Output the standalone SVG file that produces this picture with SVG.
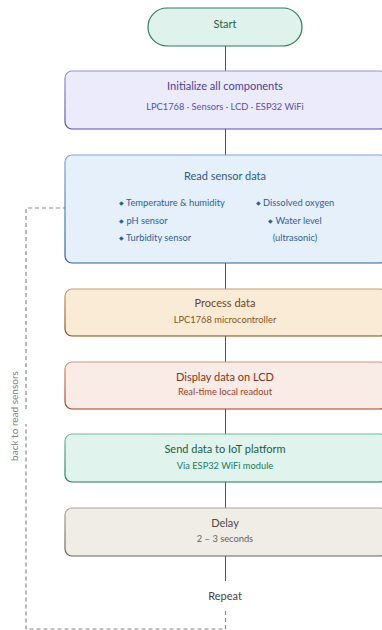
<svg xmlns="http://www.w3.org/2000/svg" width="382" height="630" viewBox="0 0 382 630">
<defs>
<linearGradient id="gInit" x1="0" y1="0" x2="0" y2="1"><stop offset="0" stop-color="#9b92d8"/><stop offset="1" stop-color="#5a4db0"/></linearGradient>
<linearGradient id="gRead" x1="0" y1="0" x2="0" y2="1"><stop offset="0" stop-color="#7ea6d6"/><stop offset="1" stop-color="#2d5f9f"/></linearGradient>
<linearGradient id="gProc" x1="0" y1="0" x2="0" y2="1"><stop offset="0" stop-color="#c0a07a"/><stop offset="1" stop-color="#8a4a0a"/></linearGradient>
<linearGradient id="gDisp" x1="0" y1="0" x2="0" y2="1"><stop offset="0" stop-color="#d09888"/><stop offset="1" stop-color="#a03e1e"/></linearGradient>
<linearGradient id="gSend" x1="0" y1="0" x2="0" y2="1"><stop offset="0" stop-color="#7ab8a2"/><stop offset="1" stop-color="#1f7a5a"/></linearGradient>
<linearGradient id="gDelay" x1="0" y1="0" x2="0" y2="1"><stop offset="0" stop-color="#aaa69e"/><stop offset="1" stop-color="#65615a"/></linearGradient>
</defs>
<style>
text{font-family:Lato,"Liberation Sans",sans-serif;text-anchor:middle}
.t{font-size:11px}
.s{font-size:9.3px}
.b{font-size:6px}
.l{text-anchor:start}
.box{stroke-width:1.2}
.conn{stroke:#555;stroke-width:1;fill:none}
.dash{stroke:#8a8a8a;stroke-width:1.2;fill:none;stroke-dasharray:4 3}
</style>
<g id="connectors">
<line class="conn" x1="225.5" y1="46" x2="225.5" y2="71"/>
<line class="conn" x1="225.5" y1="129" x2="225.5" y2="155"/>
<line class="conn" x1="225.5" y1="263" x2="225.5" y2="289"/>
<line class="conn" x1="225.5" y1="336" x2="225.5" y2="362"/>
<line class="conn" x1="225.5" y1="409" x2="225.5" y2="434"/>
<line class="conn" x1="225.5" y1="482" x2="225.5" y2="508"/>
<line class="conn" x1="225.5" y1="556" x2="225.5" y2="581"/>
<path class="dash" d="M225.5 611 V629 H26 V424"/>
<path class="dash" d="M26 409 V208 H65"/>
<text x="14" y="416" transform="rotate(-90 14 416)" dy="3.5" style="font-size:10px;fill:#808080">back to read sensors</text>
</g>
<g id="start">
<rect x="148" y="8" width="154" height="38" rx="19" fill="#dff3ec" stroke="#2e7d5b" stroke-width="1.2"/>
<text class="t" x="225" y="28" fill="#2a5d45">Start</text>
</g>
<g id="init">
<rect class="box" x="65" y="71" width="322" height="58" rx="7" fill="#ecebfb" stroke="url(#gInit)"/>
<text class="t" x="225" y="89.5" fill="#4a3f9a">Initialize all components</text>
<text class="s" x="225" y="109.5" fill="#5a4fb0">LPC1768 · Sensors · LCD · ESP32 WiFi</text>
</g>
<g id="read">
<rect class="box" x="65" y="155" width="322" height="108" rx="7" fill="#e6f0fa" stroke="url(#gRead)"/>
<text class="t" x="225" y="180" fill="#2d5a8c">Read sensor data</text>
<g fill="#2d5f9f" class="s">
<text class="s l" x="119" y="206"><tspan class="b" dy="-0.6">◆</tspan><tspan dy="0.6"> Temperature &amp; humidity</tspan></text>
<text class="s l" x="119" y="223.5"><tspan class="b" dy="-0.6">◆</tspan><tspan dy="0.6"> pH sensor</tspan></text>
<text class="s l" x="119" y="240.5"><tspan class="b" dy="-0.6">◆</tspan><tspan dy="0.6"> Turbidity sensor</tspan></text>
<text class="s" x="295" y="206"><tspan class="b" dy="-0.6">◆</tspan><tspan dy="0.6"> Dissolved oxygen</tspan></text>
<text class="s" x="295" y="223.5"><tspan class="b" dy="-0.6">◆</tspan><tspan dy="0.6"> Water level</tspan></text>
<text class="s" x="295" y="240.5">(ultrasonic)</text>
</g>
</g>
<g id="process">
<rect class="box" x="65" y="289" width="322" height="47" rx="7" fill="#faebd7" stroke="url(#gProc)"/>
<text class="t" x="225" y="307" fill="#6e4418">Process data</text>
<text class="s" x="225" y="323" fill="#8a5420">LPC1768 microcontroller</text>
</g>
<g id="display">
<rect class="box" x="65" y="362" width="322" height="47" rx="7" fill="#f9ebe6" stroke="url(#gDisp)"/>
<text class="t" x="225" y="380.5" fill="#7f3520">Display data on LCD</text>
<text class="s" x="225" y="395" fill="#a0402a">Real-time local readout</text>
</g>
<g id="send">
<rect class="box" x="65" y="434" width="322" height="48" rx="7" fill="#e0f3ec" stroke="url(#gSend)"/>
<text class="t" x="225" y="453" fill="#1d6048">Send data to IoT platform</text>
<text class="s" x="225" y="468.5" fill="#247a5c">Via ESP32 WiFi module</text>
</g>
<g id="delay">
<rect class="box" x="65" y="508" width="322" height="48" rx="7" fill="#f0ede6" stroke="url(#gDelay)"/>
<text class="t" x="225" y="526.5" fill="#4e4a44">Delay</text>
<text class="s" x="225" y="541.5" fill="#66625c">2 – 3 seconds</text>
</g>
<g id="repeat">
<text class="t" x="225" y="600" fill="#444">Repeat</text>
</g>
</svg>
